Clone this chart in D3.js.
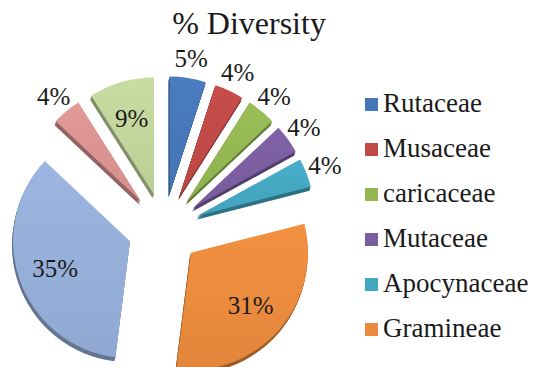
<!DOCTYPE html>
<html>
<head>
<meta charset="utf-8">
<script src="https://cdn.jsdelivr.net/npm/d3@7"></script>
</head>
<body style="margin:0; font-family: 'Liberation Serif', serif;">
<svg id="chart" width="533" height="367"></svg>
<script>
// Share of each plant family (%), clockwise from 12 o'clock
const shares = [5, 4, 4, 4, 4, 31, 35, 4, 9];
// Families listed in the legend
const families = ["Rutaceae", "Musaceae", "caricaceae", "Mutaceae", "Apocynaceae", "Gramineae"];
// Slice fill colours, in slice order
const sliceColors = ["#4677b8", "#bf4a47", "#93b653", "#7b5ea0", "#44a7c1", "#e98a3d", "#95aed8", "#d99391", "#c0d49b"];
const chartTitle = "% Diversity";

const svg = d3.select("#chart");
const serifStyle = "font-family: 'Liberation Serif', 'Times New Roman', serif !important;";
const ink = "#1a1a1a";

// Pie geometry
const cx = 164, cy = 229;
const radius = 117;
const explode = 36;
const depth = 4;

const pie = d3.pie().sort(null).value(d => d).startAngle(0).endAngle(2 * Math.PI);
const arcs = pie(shares);
const arc = d3.arc().innerRadius(0).outerRadius(radius);

const plot = svg.append("g").attr("transform", `translate(${cx},${cy})`);

const mid = d => (d.startAngle + d.endAngle) / 2;
const offset = (d, dist) => [dist * Math.sin(mid(d)), -dist * Math.cos(mid(d))];

// Each slice pulled out along its bisector
const slices = plot.selectAll("g.slice")
  .data(arcs)
  .join("g")
  .attr("class", "slice")
  .attr("transform", d => {
    const [dx, dy] = offset(d, explode);
    return `translate(${dx},${dy})`;
  });

// Extruded side of each slice (drawn below the top face)
slices.each(function(d, i) {
  const g = d3.select(this);
  const side = d3.color(sliceColors[i]).darker(1.1).formatHex();
  for (let k = depth; k >= 1; k--) {
    g.append("path")
      .attr("d", arc(d))
      .attr("transform", `translate(${-k * 0.3},${k})`)
      .attr("fill", side);
  }
});

// Top faces with a soft light-to-dark sheen
const defs = svg.append("defs");
sliceColors.forEach((c, i) => {
  const grad = defs.append("linearGradient")
    .attr("id", "sheen" + i)
    .attr("x1", "0").attr("y1", "0").attr("x2", "0").attr("y2", "1");
  grad.append("stop").attr("offset", "0%").attr("stop-color", d3.color(c).brighter(0.12).formatHex());
  grad.append("stop").attr("offset", "100%").attr("stop-color", d3.color(c).darker(0.08).formatHex());
});

slices.append("path")
  .attr("d", arc)
  .attr("fill", (d, i) => `url(#sheen${i})`);

// Percentage labels: small slices outside, larger ones inside
const labelDist = d => d.data >= 9 ? explode + radius * 0.68 : explode + radius + 20;
plot.selectAll("text.pct")
  .data(arcs)
  .join("text")
  .attr("class", "pct")
  .attr("style", serifStyle)
  .attr("fill", ink)
  .attr("text-anchor", "middle")
  .attr("font-size", 25)
  .attr("x", d => offset(d, labelDist(d))[0])
  .attr("y", d => offset(d, labelDist(d))[1] + 9)
  .text(d => d.data + "%");

// Title
svg.append("text")
  .attr("style", serifStyle)
  .attr("fill", ink)
  .attr("x", 249)
  .attr("y", 34)
  .attr("text-anchor", "middle")
  .attr("font-size", 32)
  .text(chartTitle);

// Legend
const legend = svg.append("g").attr("transform", "translate(365,98)");
const rowGap = 45;
const rows = legend.selectAll("g.item")
  .data(families)
  .join("g")
  .attr("class", "item")
  .attr("transform", (d, i) => `translate(0,${i * rowGap})`);

rows.append("rect")
  .attr("width", 13)
  .attr("height", 13)
  .attr("fill", (d, i) => sliceColors[i]);

rows.append("text")
  .attr("style", serifStyle)
  .attr("fill", ink)
  .attr("x", 18)
  .attr("y", 14)
  .attr("font-size", 27)
  .text(d => d);
</script>
</body>
</html>
